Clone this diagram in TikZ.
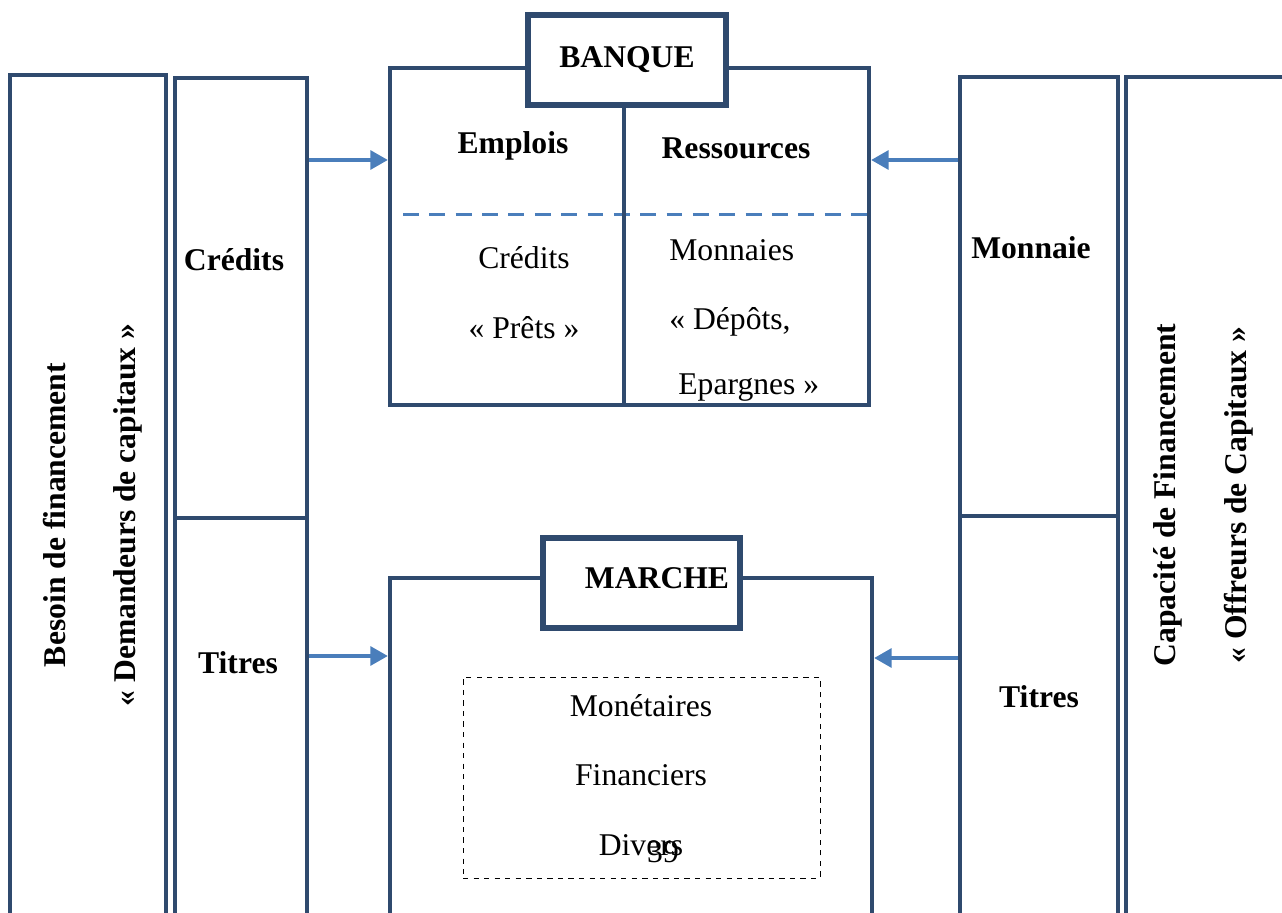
\documentclass[tikz,border=0pt]{standalone}
\usepackage{fontspec}
\setmainfont{Liberation Serif}
\usetikzlibrary{arrows.meta}
\definecolor{bleufonce}{RGB}{47,74,110}
\definecolor{bleuclair}{RGB}{74,126,187}

\begin{document}
\begin{tikzpicture}[
  boite/.style={rectangle, draw=bleufonce, line width=2.3pt, fill=white, inner sep=0pt},
  titre/.style={boite, line width=3.4pt, font=\fontsize{18}{22}\selectfont\bfseries},
  texte/.style={font=\fontsize{18}{22}\selectfont, inner sep=0pt},
  gras/.style={texte, font=\fontsize{18}{22}\selectfont\bfseries},
  vertical/.style={gras, rotate=90, align=center, font=\fontsize{18}{40}\selectfont\bfseries},
  tirets/.style={draw=bleuclair, line width=1.7pt, dash pattern=on 9pt off 6pt},
  fleche/.style={-{Triangle[length=10pt,width=10.5pt]}, draw=bleuclair, line width=2.8pt}]
\clip (0,0) rectangle (25.64,18.24);

% Colonne de gauche : demandeurs
\node (besoin) [boite, minimum width=3.12cm, minimum height=17.3cm] at (1.76,8.09) {};
\node (besoinT) [vertical] at (1.85,7.94) {Besoin de financement\\« Demandeurs de capitaux »};
\node (credits) [boite, minimum width=2.64cm, minimum height=8.8cm] at (4.82,12.28) {};
\node (titres) [boite, minimum width=2.64cm, minimum height=8.44cm] at (4.82,3.66) {};
\node (creditsT) [gras] at (4.68,13.04) {Crédits};
\node (titresT) [gras] at (4.76,4.98) {Titres};

% Banque
\node (banque) [boite, minimum width=9.58cm, minimum height=6.74cm] at (12.59,13.51) {};
\node (banqueT) [titre, minimum width=3.96cm, minimum height=1.8cm] at (12.54,17.04) {BANQUE};
\draw [tirets] (8.06,13.94) -- (17.38,13.94);
\draw [bleufonce, line width=2.3pt] ([xshift=-0.06cm]banqueT.south) -- ([xshift=-0.06cm]banqueT.south |- banque.south);
\node (emplois) [gras] at (10.26,15.32) {Emplois};
\node (ressources) [gras] at (14.72,15.28) {Ressources};
\node (pretsA) [texte] at (10.48,13.08) {Crédits};
\node (pretsB) [texte] at (10.48,11.68) {« Prêts »};
\node (depotsA) [texte, anchor=west] at (13.38,13.24) {Monnaies};
\node (depotsB) [texte, anchor=west] at (13.38,11.8) {« Dépôts,};
\node (depotsC) [texte, anchor=west] at (13.56,10.48) {Epargnes »};

% Marche
\node (marche) [boite, minimum width=9.64cm, minimum height=7.24cm] at (12.62,3.06) {};
\node (marcheT) [titre, minimum width=3.94cm, minimum height=1.8cm] at (12.83,6.58) {};
\node (marcheN) [gras] at (13.14,6.68) {MARCHE};
\node (valeurs) [rectangle, draw, dashed, thin, minimum width=7.14cm, minimum height=4.02cm] at (12.83,2.69) {};
\node (monet) [texte] at (12.82,4.12) {Monétaires};
\node (financ) [texte] at (12.82,2.74) {Financiers};
\node (divers) [texte] at (12.82,1.34) {Divers};
\node (page) [texte] at (13.26,1.2) {39};

% Colonne de droite : offreurs
\node (monnaie) [boite, minimum width=3.16cm, minimum height=8.78cm] at (20.78,12.31) {};
\node (titresD) [boite, minimum width=3.16cm, minimum height=8.48cm] at (20.78,3.68) {};
\node (monnaieT) [gras] at (20.62,13.28) {Monnaie};
\node (titresDT) [gras] at (20.78,4.3) {Titres};
\node (capacite) [boite, minimum width=3.48cm, minimum height=17.26cm] at (24.26,8.07) {};
\node (capaciteT) [vertical] at (24.07,8.34) {Capacité de Financement\\« Offreurs de Capitaux »};

% Fleches
\draw [fleche] ([yshift=2.76cm]credits.east) -- ([yshift=2.76cm]credits.east -| banque.west);
\draw [fleche] ([yshift=1.46cm]titres.east) -- ([yshift=1.46cm]titres.east -| marche.west);
\draw [fleche] ([yshift=2.73cm]monnaie.west) -- ([yshift=2.73cm]monnaie.west -| banque.east);
\draw [fleche] ([yshift=1.4cm]titresD.west) -- ([yshift=1.4cm]titresD.west -| marche.east);
\end{tikzpicture}
\end{document}
